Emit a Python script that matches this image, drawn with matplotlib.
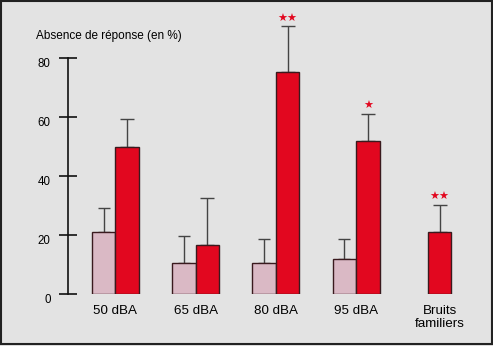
import numpy as np
import matplotlib
matplotlib.use("Agg")
import matplotlib.pyplot as plt
from matplotlib.patches import Rectangle
from matplotlib.transforms import ScaledTranslation

plt.rcParams['font.family'] = ['Liberation Sans', 'DejaVu Sans']

# categories and measured values (% of no response)
categories = ["50 dBA", "65 dBA", "80 dBA", "95 dBA", "Bruits\nfamiliers"]
pink_vals = [21, 10.5, 10.5, 11.8, None]
pink_err = [8, 9, 8, 7, None]
red_vals = [50, 16.5, 75.2, 51.8, 21]
red_err = [9.2, 16, 15.5, 9.3, 9.3]
stars = ["", "", "\u2605\u2605", "\u2605", "\u2605\u2605"]

yticks = [0, 20, 40, 60, 80]

bg = "#e3e3e3"
red = "#e2071f"
pink = "#dab9c5"
edge = "#3a1a1e"

W, H = 493, 346
fig = plt.figure(figsize=(W / 100, H / 100), dpi=100, facecolor=bg)

# axes: y=0 at 294 px from top, y=80 at 58 px; left spine at x=68 px
left, right = 68, 482
bottom_px, top_px = 294, 58
ax = fig.add_axes([left / W, (H - bottom_px) / H,
                   (right - left) / W, (bottom_px - top_px) / H])
ax.set_facecolor("none")

step = 80.3          # px between groups
x0 = 115.3           # px of first group centre
ax.set_xlim((left - x0) / step, (right - x0) / step)
ax.set_ylim(0, 80)

bw = 23.5 / step
x = np.arange(len(categories))

for i in range(len(categories)):
    if pink_vals[i] is not None:
        xp = x[i] - bw / 2
        xr = x[i] + bw / 2
        ax.bar(xp, pink_vals[i], width=bw, color=pink, edgecolor=edge,
               linewidth=1, zorder=2)
        ax.errorbar(xp, pink_vals[i], yerr=[[0], [pink_err[i]]], fmt="none",
                    ecolor="#444444", elinewidth=1, capsize=4, capthick=1,
                    zorder=1, clip_on=False)
    else:
        xr = x[i] + 0.04
    ax.bar(xr, red_vals[i], width=bw, color=red, edgecolor=edge,
           linewidth=1, zorder=2)
    ax.errorbar(xr, red_vals[i], yerr=[[0], [red_err[i]]], fmt="none",
                ecolor="#444444", elinewidth=1, capsize=5, capthick=1,
                zorder=1, clip_on=False)
    if stars[i]:
        ax.text(xr, red_vals[i] + red_err[i] + 1.0, stars[i], color=red,
                fontsize=8, ha="center", va="bottom",
                family=["DejaVu Sans"], clip_on=False)

# y axis
for s in ["top", "right", "bottom"]:
    ax.spines[s].set_visible(False)
ax.spines["left"].set_linewidth(1.2)
ax.spines["left"].set_color("#111111")
ax.set_yticks(yticks)
ax.tick_params(axis="y", direction="inout", length=13, width=1.2,
               color="#111111", labelsize=8.3, pad=6)
offset = ScaledTranslation(0, -4.5 / 100, fig.dpi_scale_trans)
for lab in ax.get_yticklabels():
    lab.set_transform(lab.get_transform() + offset)

# x labels
ax.set_xticks(list(x[:4]) + [x[4] + 0.04])
ax.set_xticklabels(categories, fontsize=9.6, linespacing=1.05, va="top")
ax.tick_params(axis="x", length=0, pad=8)

fig.text(36 / W, 1 - 36 / H, "Absence de réponse (en %)", fontsize=8.5,
         ha="left", va="center")

# outer frame
fig.patches.append(Rectangle((0.5 / W, 2 / H), (W - 2) / W, (H - 2.5) / H,
                             transform=fig.transFigure, fill=False,
                             edgecolor="#222222", linewidth=1.5))

fig.savefig("out.png", dpi=100, facecolor=bg)
